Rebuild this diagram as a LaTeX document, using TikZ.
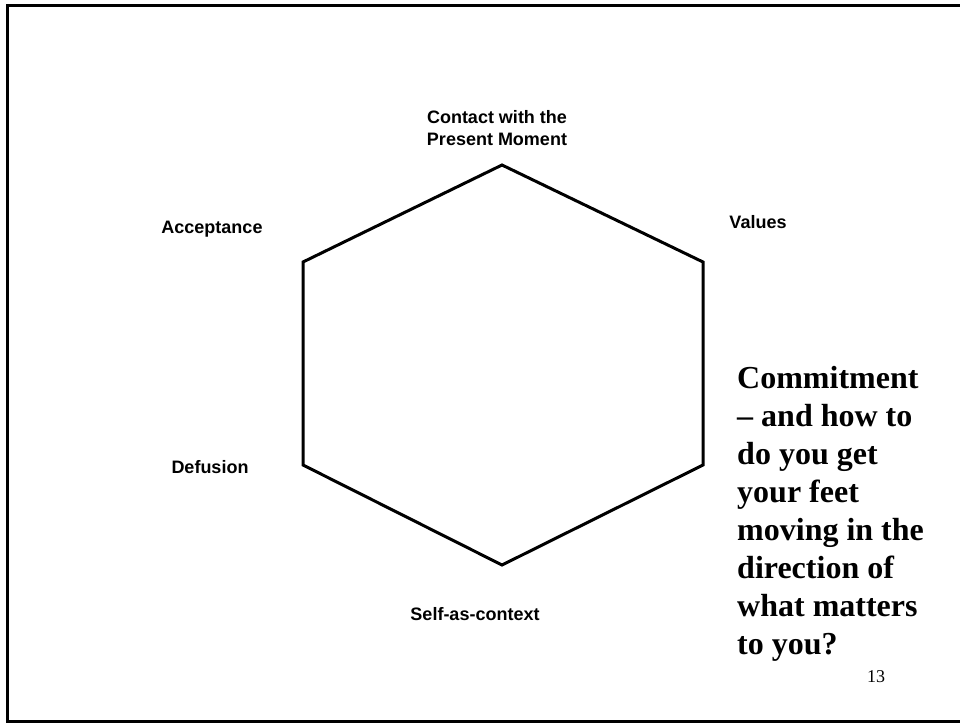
\documentclass[tikz,border=0pt]{standalone}
\usepackage{fontspec}
\setmainfont{Liberation Serif}
\newfontfamily\labelfont{Liberation Sans}
\begin{document}
\begin{tikzpicture}[x=1pt,y=-1pt,
  facet/.style={font=\labelfont\bfseries\fontsize{18}{22}\selectfont, align=center, inner sep=0pt},
  edge/.style={line width=3pt, line join=miter},
  frame/.style={line width=3pt}]
  \useasboundingbox (0,0) rectangle (960,723);
  % slide frame, open on the right
  \draw[frame] (965,5.5) -- (7.5,5.5) -- (7.5,721.5) -- (965,721.5);
  % hexagon corners
  \coordinate (top) at (502,165);
  \coordinate (ur)  at (703,262);
  \coordinate (lr)  at (703,465);
  \coordinate (bot) at (502,565);
  \coordinate (ll)  at (303,465);
  \coordinate (ul)  at (303,262);
  \draw[edge] (top) -- (ur) -- (lr) -- (bot) -- (ll) -- (ul) -- cycle;
  % process labels
  \node[facet] (contact) at (497,128) {Contact with the\\Present Moment};
  \node[facet] (values) at (758,222) {Values};
  \node[facet] (accept) at (212,229) {Acceptance};
  \node[facet] (defus) at (210,467) {Defusion};
  \node[facet] (self) at (475,614) {Self-as-context};
  % commitment question
  \node[font=\bfseries\fontsize{32}{38}\selectfont, align=left, inner sep=0pt, anchor=north west]
    (commit) at (737,366) {Commitment\\– and how to\\do you get\\your feet\\moving in the\\direction of\\what matters\\to you?};
  \node[font=\fontsize{18}{20}\selectfont, inner sep=0pt] (page) at (876,677) {13};
\end{tikzpicture}
\end{document}
